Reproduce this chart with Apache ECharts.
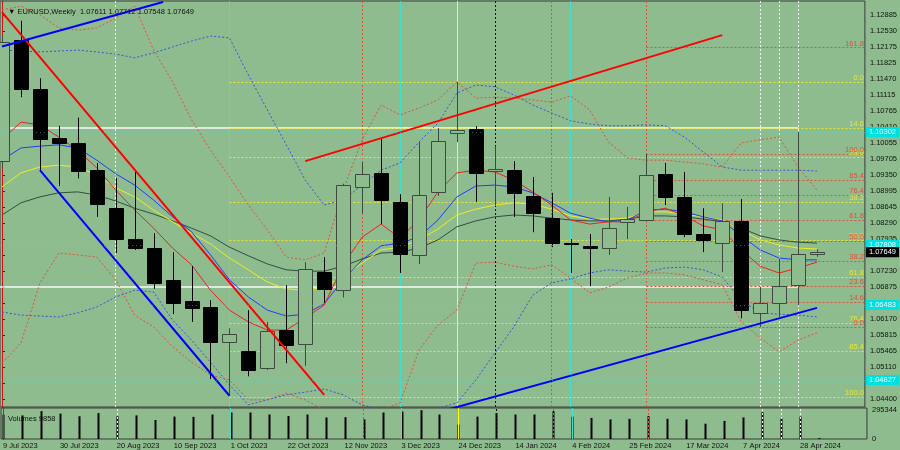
<!DOCTYPE html>
<html><head><meta charset="utf-8">
<script src="https://cdn.jsdelivr.net/npm/echarts@6/dist/echarts.min.js"></script>
<style>html,body{margin:0;padding:0;background:#8fbc8f;}#c{width:900px;height:450px;}</style>
</head><body><div id="c"></div>
<script>
// ---------- DATA ----------
const weeks = ['9 Jul 2023','16 Jul 2023','23 Jul 2023','30 Jul 2023','6 Aug 2023','13 Aug 2023','20 Aug 2023','27 Aug 2023','3 Sep 2023','10 Sep 2023','17 Sep 2023','24 Sep 2023','1 Oct 2023','8 Oct 2023','15 Oct 2023','22 Oct 2023','29 Oct 2023','5 Nov 2023','12 Nov 2023','19 Nov 2023','26 Nov 2023','3 Dec 2023','10 Dec 2023','17 Dec 2023','24 Dec 2023','31 Dec 2023','7 Jan 2024','14 Jan 2024','21 Jan 2024','28 Jan 2024','4 Feb 2024','11 Feb 2024','18 Feb 2024','25 Feb 2024','3 Mar 2024','10 Mar 2024','17 Mar 2024','24 Mar 2024','31 Mar 2024','7 Apr 2024','14 Apr 2024','21 Apr 2024','28 Apr 2024','5 May 2024'];
const opens  = [1.0966,1.1233,1.1125,1.1016,1.1005,1.0946,1.0862,1.0794,1.0774,1.0703,1.0657,1.0645,1.0567,1.0547,1.0509,1.0593,1.0562,1.0721,1.0681,1.0909,1.0940,1.0876,1.0759,1.0898,1.1028,1.1037,1.0944,1.0946,1.0889,1.0840,1.0786,1.0779,1.0774,1.0831,1.0836,1.0937,1.0887,1.0805,1.0785,1.0834,1.0631,1.0653,1.0692,1.07611];
const highs  = [1.1244,1.1276,1.1149,1.1044,1.1062,1.0962,1.0929,1.0944,1.0807,1.0765,1.0734,1.0659,1.0597,1.0637,1.0611,1.0692,1.0743,1.0754,1.0916,1.0964,1.1015,1.0893,1.1008,1.1039,1.1141,1.1043,1.0999,1.0966,1.0931,1.0896,1.0794,1.0805,1.0887,1.0865,1.0982,1.0962,1.0942,1.0862,1.0873,1.0882,1.0688,1.0750,1.1030,1.07712];
const lows   = [1.0950,1.1107,1.0946,1.0911,1.0928,1.0843,1.0763,1.0770,1.0684,1.0628,1.0611,1.0485,1.0448,1.0491,1.0505,1.0520,1.0514,1.0653,1.0665,1.0851,1.0827,1.0719,1.0739,1.0889,1.1008,1.0876,1.0869,1.0843,1.0809,1.0776,1.0719,1.0690,1.0759,1.0794,1.0835,1.0869,1.0798,1.0765,1.0721,1.0619,1.0600,1.0622,1.0648,1.07548];
const closes = [1.1229,1.1125,1.1015,1.1006,1.0945,1.0871,1.0794,1.0774,1.0697,1.0653,1.0642,1.0567,1.0584,1.0505,1.0591,1.0560,1.0728,1.0684,1.0913,1.0937,1.0880,1.0761,1.0891,1.1010,1.1035,1.0940,1.0949,1.0896,1.0851,1.0785,1.0784,1.0774,1.0818,1.0838,1.0935,1.0887,1.0805,1.0792,1.0834,1.0637,1.0653,1.0690,1.0761,1.07649];
const volumes = [251000,242000,286000,260000,233000,266000,233000,242000,195000,230000,227000,251000,272000,272000,251000,236000,251000,221000,224000,201000,272000,281000,295344,251000,148000,230000,266000,251000,251000,286000,230000,216000,201000,207000,236000,207000,201000,157000,186000,221000,275000,210000,230000,9858];

const maRed    = [1.1013,1.1052,1.1046,1.1019,1.0990,1.0951,1.0902,1.0858,1.0818,1.0774,1.0737,1.0681,1.0637,1.0611,1.0593,1.0593,1.0620,1.0648,1.0737,1.0798,1.0827,1.0796,1.0836,1.0898,1.0940,1.0946,1.0942,1.0924,1.0898,1.0869,1.0836,1.0827,1.0832,1.0832,1.0854,1.0862,1.0845,1.0823,1.0814,1.0770,1.0734,1.0719,1.0730,1.0743];
const maBlue   = [1.0968,1.0995,1.0999,1.1002,1.0995,1.0968,1.0938,1.0913,1.0880,1.0843,1.0810,1.0759,1.0704,1.0666,1.0637,1.0624,1.0628,1.0651,1.0704,1.0748,1.0779,1.0785,1.0798,1.0836,1.0887,1.0911,1.0913,1.0909,1.0896,1.0874,1.0851,1.0840,1.0832,1.0836,1.0858,1.0860,1.0854,1.0843,1.0834,1.0801,1.0770,1.0752,1.0748,1.0748];
const maYellow = [1.0909,1.0940,1.0953,1.0957,1.0953,1.0935,1.0907,1.0887,1.0858,1.0832,1.0807,1.0783,1.0752,1.0726,1.0699,1.0684,1.0681,1.0688,1.0712,1.0741,1.0770,1.0776,1.0792,1.0816,1.0847,1.0860,1.0869,1.0874,1.0871,1.0860,1.0845,1.0838,1.0838,1.0840,1.0854,1.0854,1.0849,1.0843,1.0836,1.0814,1.0792,1.0781,1.0774,1.0772];
const maGreen  = [1.0847,1.0874,1.0887,1.0896,1.0898,1.0891,1.0878,1.0862,1.0849,1.0834,1.0818,1.0801,1.0776,1.0757,1.0739,1.0726,1.0723,1.0723,1.0734,1.0750,1.0763,1.0765,1.0774,1.0792,1.0821,1.0834,1.0843,1.0847,1.0845,1.0840,1.0836,1.0834,1.0834,1.0838,1.0845,1.0845,1.0843,1.0838,1.0832,1.0818,1.0801,1.0792,1.0787,1.0785];
const bandBlueUpper = [1.1211,1.1209,1.1207,1.1209,1.1211,1.1207,1.1202,1.1194,1.1205,1.1218,1.1231,1.1242,1.1238,1.1156,1.1079,1.1002,1.0924,1.0869,1.0880,1.0913,1.0946,1.0962,1.1008,1.1050,1.1116,1.1134,1.1130,1.1112,1.1090,1.1072,1.1055,1.1048,1.1044,1.1044,1.1046,1.1044,1.1019,1.0986,1.0953,1.0946,1.0946,1.0946,1.0946,1.0944];
const bandBlueLower = [1.0633,1.0626,1.0624,1.0622,1.0631,1.0644,1.0666,1.0681,1.0677,1.0615,1.0571,1.0522,1.0472,1.0428,1.0439,1.0450,1.0456,1.0463,1.0450,1.0428,1.0417,1.0412,1.0417,1.0421,1.0432,1.0483,1.0542,1.0600,1.0670,1.0697,1.0706,1.0719,1.0726,1.0723,1.0721,1.0730,1.0732,1.0726,1.0710,1.0659,1.0631,1.0628,1.0626,1.0622];
const bandRedUpper = [1.1300,1.1308,1.1289,1.1260,1.1255,1.1260,1.1282,1.1308,1.1211,1.1141,1.1057,1.0990,1.0931,1.0869,1.0814,1.0754,1.0748,1.0763,1.0902,1.1013,1.1090,1.1068,1.1083,1.1101,1.1141,1.1105,1.1107,1.1105,1.1101,1.1096,1.1110,1.1079,1.1008,1.0973,1.0968,1.0968,1.0964,1.0960,1.0953,1.1006,1.1013,1.1019,1.0953,1.0902];
const bandRedLower = [1.0520,1.0564,1.0697,1.0763,1.0759,1.0754,1.0704,1.0626,1.0600,1.0556,1.0522,1.0494,1.0483,1.0439,1.0439,1.0454,1.0439,1.0417,1.0406,1.0406,1.0417,1.0432,1.0549,1.0604,1.0637,1.0741,1.0743,1.0734,1.0728,1.0737,1.0708,1.0675,1.0688,1.0708,1.0719,1.0719,1.0715,1.0704,1.0693,1.0611,1.0576,1.0545,1.0571,1.0587];

const priceTicks = [1.12885,1.12530,1.12175,1.11825,1.11470,1.11115,1.10765,1.10410,1.10055,1.09705,1.09350,1.08995,1.08645,1.08290,1.07935,1.07585,1.07230,1.06875,1.06520,1.06170,1.05815,1.05465,1.05110,1.04755,1.04400];
const volumeTicks = [0, 295344];
const dateTickIdx = [0,3,6,9,12,15,18,21,24,27,30,33,36,39,42];

const fibYellowLevels = ['0.0','14.6','23.6','38.2','50.0','61.8','76.4','85.4','100.0'];
const fibYellowPrices = [1.11406,1.10391,1.09750,1.08757,1.07918,1.07101,1.06086,1.05468,1.04452];
const fibYellowStart = 12;
const fibRedLevels = ['0.0','14.6','23.6','38.2','50.0','61.8','76.4','85.4','100.0','161.8'];
const fibRedPrices = [1.05998,1.06550,1.06903,1.07455,1.07896,1.08360,1.08911,1.09243,1.09817,1.12163];
const fibRedStart = 34;

const trendRedDown  = [[0,1.1295],[17,1.0450]];
const trendBlueDown = [[2,1.0946],[12,1.0448]];
const trendBlueTop  = [[0,1.1219],[8.5,1.1317]];
const trendRedUp    = [[16,1.0966],[38,1.1244]];
const trendBlueUp   = [[20,1.0377],[43,1.0642]];

const hWhitePrices = [1.10391,1.06881];
const hWhiteEnd = 42;
const cyanPrices = [1.10302,1.07808,1.06483,1.04827];
const lastPrice = 1.07649;

const vRedSolid = [0];
const vWhiteDotted = [6,40,41,42];
const vCyan = [12,21,30];
const vRedDotted = [19,29,34];
const vYellow = [24];
const vBlackDotted = [26];

// ---------- CHART ----------
const BG = '#8fbc8f';
const XMIN = -2/19, XMAX = XMIN + 867/19;
const chart = echarts.init(document.getElementById('c'), null, {renderer:'canvas'});
const FONT = 'Liberation Sans';
const txt = '#111';

function pairs(arr){ return arr.map((v,i)=>[i,v]); }

const vStyles = [];
vRedSolid.forEach(x=>vStyles.push({xAxis:x, lineStyle:{color:'#e01010', type:'solid', width:1}}));
vWhiteDotted.forEach(x=>vStyles.push({xAxis:x, lineStyle:{color:'#f4f4f4', type:[2,2], width:1}}));
vCyan.forEach(x=>vStyles.push({xAxis:x, lineStyle:{color:'#40e0d0', type:'solid', width:1}}));
vRedDotted.forEach(x=>vStyles.push({xAxis:x, lineStyle:{color:'#e0503c', type:[2,2], width:1}}));
vYellow.forEach(x=>vStyles.push({xAxis:x, lineStyle:{color:'#ffff00', type:'solid', width:1}}));
vBlackDotted.forEach(x=>vStyles.push({xAxis:x, lineStyle:{color:'#111', type:[2,2], width:1}}));

function fibData(levels, prices, start, color){
  return prices.map((p,k)=>[
    {coord:[start,p], name:levels[k], lineStyle:{color:color,type:[2,2],width:1},
     label:{show:true, position:'insideEndTop', formatter:'{b}', color:color, fontSize:7.5, fontFamily:FONT, distance:[1,0]}},
    {coord:[XMAX,p]}
  ]);
}

const candleData = weeks.map((w,i)=>[i,opens[i],highs[i],lows[i],closes[i]]);

function renderCandle(params, api){
  const i=api.value(0), o=api.value(1), h=api.value(2), l=api.value(3), c=api.value(4);
  const po=api.coord([i,o]), pc=api.coord([i,c]), ph=api.coord([i,h]), pl=api.coord([i,l]);
  const x=Math.round(po[0])+0.5;
  const bull=c>=o;
  const top=Math.round(Math.min(po[1],pc[1]))+0.5, bot=Math.round(Math.max(po[1],pc[1]))+0.5;
  const col = bull ? '#3e4a3e' : '#000';
  return {type:'group', children:[
    {type:'line', shape:{x1:x,y1:ph[1],x2:x,y2:pl[1]}, style:{stroke:col, lineWidth:1}},
    {type:'rect', shape:{x:x-7, y:top, width:14, height:Math.max(0,bot-top)}, style:{fill: bull?BG:'#000', stroke:col, lineWidth:1}}
  ]};
}
function renderVol(params, api){
  const i=api.value(0), v=api.value(1);
  const p0=api.coord([i,0]), p1=api.coord([i,v]);
  const x=Math.round(p0[0])+0.5;
  return {type:'line', shape:{x1:x,y1:p0[1],x2:x,y2:p1[1]}, style:{stroke:'#000', lineWidth:2}};
}

function lineSeries(name, data, color, dashed, z){
  return {name, type:'line', xAxisIndex:0, yAxisIndex:0, data:pairs(data), symbol:'none', silent:true,
    lineStyle:{color, width:1, type: dashed?[2,2]:'solid'}, z:z||2, clip:true};
}
function trendSeries(name, pts, color){
  return {name, type:'line', xAxisIndex:0, yAxisIndex:0, data:pts, symbol:'none', silent:true,
    lineStyle:{color, width:2}, z:5, clip:true};
}

const boxLabel = (text,bg,fg)=>({show:true, position:'end', formatter:text, backgroundColor:bg, color:fg, fontSize:7.5, fontFamily:FONT, padding:[1,3,1,3], distance:1});

const option = {
  animation:false,
  backgroundColor: BG,
  title:[
    {text:'▼ EURUSD,Weekly  1.07611 1.07712 1.07548 1.07649', left:3, top:3,
     textStyle:{fontSize:7.5, fontWeight:'normal', color:txt, fontFamily:FONT}},
    {text:'Volumes 9858', left:3, top:410, textStyle:{fontSize:7.5, fontWeight:'normal', color:txt, fontFamily:FONT}}
  ],
  grid:[
    {left:0, right:33, top:1, height:406, show:true, borderColor:'#3a3a3a', borderWidth:1, backgroundColor:'transparent'},
    {left:0, right:33, top:408, height:35, show:true, borderColor:'#3a3a3a', borderWidth:1, backgroundColor:'transparent'}
  ],
  xAxis:[
    {type:'value', gridIndex:0, min:XMIN, max:XMAX, show:true, axisLine:{show:false}, axisTick:{show:false}, axisLabel:{show:false}, splitLine:{show:false}},
    {type:'value', gridIndex:1, min:XMIN, max:XMAX, axisLine:{show:false}, axisTick:{show:false}, splitLine:{show:false},
     axisLabel:{show:true, customValues:dateTickIdx, formatter:(v)=>weeks[Math.round(v)]||'', align:'left', margin:3,
       fontSize:7.5, color:txt, fontFamily:FONT, hideOverlap:false, showMinLabel:true, showMaxLabel:true}}
  ],
  yAxis:[
    {type:'value', gridIndex:0, position:'right', min:1.04232, max:1.13194, splitLine:{show:false},
     axisLine:{show:true, lineStyle:{color:'#2a2a2a'}},
     axisTick:{show:true, customValues:priceTicks, length:3, lineStyle:{color:'#2a2a2a'}},
     axisLabel:{show:true, customValues:priceTicks, formatter:(v)=>v.toFixed(5), margin:5, fontSize:7.5, color:txt, fontFamily:FONT, hideOverlap:false, showMinLabel:true, showMaxLabel:true}},
    {type:'value', gridIndex:1, position:'right', min:0, max:318000, splitLine:{show:false},
     axisLine:{show:true, lineStyle:{color:'#2a2a2a'}},
     axisTick:{show:false},
     axisLabel:{show:true, customValues:volumeTicks, formatter:(v)=>String(v), margin:5, fontSize:7.5, color:txt, fontFamily:FONT, verticalAlign:'middle', hideOverlap:false}}
  ],
  series:[
    lineSeries('bbU', bandBlueUpper, '#3552e0', true),
    lineSeries('bbL', bandBlueLower, '#3552e0', true),
    lineSeries('envU', bandRedUpper, '#e0503c', true),
    lineSeries('envL', bandRedLower, '#e0503c', true),
    Object.assign(lineSeries('maGreen', maGreen, '#2f4f3f', false), {
      markLine:{silent:true, precision:6, symbol:['none','none'], animation:false, label:{show:false}, z:1,
        data: vStyles.concat(
          hWhitePrices.map(p=>[{coord:[XMIN,p], lineStyle:{color:'#f8f8f8', width:1.5, type:'solid'}},{coord:[hWhiteEnd,p]}]),
          fibData(fibYellowLevels, fibYellowPrices, fibYellowStart, '#e6e635'),
          fibData(fibRedLevels, fibRedPrices, fibRedStart, '#e0503c')
        )}
    }),
    lineSeries('maYellow', maYellow, '#eeee22', false),
    lineSeries('maBlue', maBlue, '#1f3cff', false),
    lineSeries('maRed', maRed, '#ee2020', false),
    {name:'candles', type:'custom', xAxisIndex:0, yAxisIndex:0, data:candleData, renderItem:renderCandle, z:4, clip:true, silent:true,
     encode:{x:0, y:[1,2,3,4]}},
    trendSeries('tRedDown', trendRedDown, '#ff0000'),
    trendSeries('tBlueDown', trendBlueDown, '#0000ff'),
    trendSeries('tBlueTop', trendBlueTop, '#0000ff'),
    trendSeries('tRedUp', trendRedUp, '#ff0000'),
    Object.assign(trendSeries('tBlueUp', trendBlueUp, '#0000ff'), {
      markLine:{silent:true, precision:6, symbol:['none','none'], animation:false, z:6,
        data: cyanPrices.map(p=>({yAxis:p, lineStyle:{color:'rgba(64,224,208,0.45)', width:1, type:[1,3]},
             label:boxLabel(p.toFixed(5),'#00e0e0','#e8ffff')})).concat(
           [{yAxis:lastPrice, lineStyle:{color:'rgba(0,0,0,0)', width:0}, label:boxLabel(lastPrice.toFixed(5),'#000','#fff')}])}
    }),
    {name:'vol', type:'custom', xAxisIndex:1, yAxisIndex:1, data:pairs(volumes), renderItem:renderVol, z:3, clip:true, silent:true,
     encode:{x:0,y:1},
     markLine:{silent:true, precision:6, symbol:['none','none'], animation:false, label:{show:false}, data: vStyles}}
  ]
};
chart.setOption(option);
</script>
</body></html>
